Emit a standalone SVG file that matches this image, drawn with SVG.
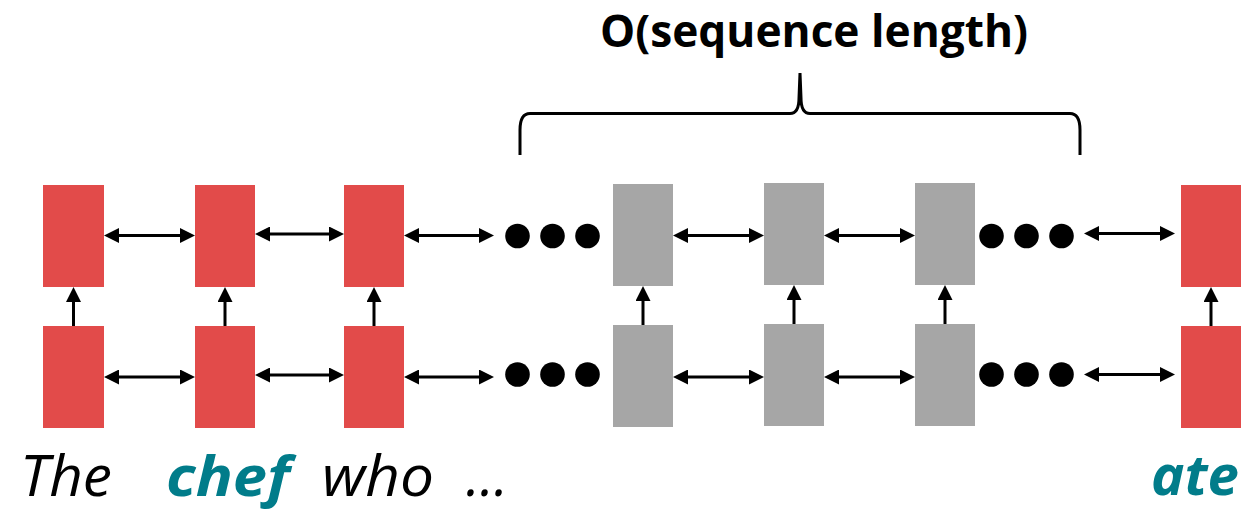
<svg xmlns="http://www.w3.org/2000/svg" width="1246" height="510" viewBox="0 0 1246 510">
<defs>
<marker id="ah" markerUnits="userSpaceOnUse" markerWidth="15" markerHeight="15" refX="3" refY="7.5" orient="auto-start-reverse" viewBox="0 0 15 15">
<path d="M0,0 L15,7.5 L0,15 z" fill="#000"/>
</marker>
</defs>
<style>
.red{fill:#E24B4A}
.gray{fill:#A6A6A6}
.c{stroke:#000;stroke-width:3;fill:none}
.bi{stroke:#000;stroke-width:3;fill:none;marker-start:url(#ah);marker-end:url(#ah)}
.up{stroke:#000;stroke-width:3;fill:none;marker-end:url(#ah)}
.dot{fill:#000}
.w{font-family:"Open Sans","Liberation Sans",sans-serif;font-style:italic;font-size:56px;fill:#000}
.k{font-family:"Open Sans","Liberation Sans",sans-serif;font-style:italic;font-weight:bold;font-size:56px;fill:#017C8A}
.t{font-family:"Open Sans","Liberation Sans",sans-serif;font-weight:bold;font-size:45px;fill:#000}
</style>
<rect width="1246" height="510" fill="#fff"/>
<g id="title"><text class="t" x="600" y="47" textLength="428" lengthAdjust="spacingAndGlyphs">O(sequence length)</text></g>
<g id="brace"><path class="c" stroke-width="2.5" d="M520,155 L520,130 Q520,113.5 530,113.5 L790,113.5 Q799,113.5 799,98 L800,73 L801,98 Q801,113.5 810,113.5 L1070,113.5 Q1080,113.5 1080,130 L1080,155"/></g>
<g id="n-top-1"><rect class="red" x="43" y="185" width="61" height="102"/></g>
<g id="n-top-2"><rect class="red" x="195" y="185" width="60" height="102"/></g>
<g id="n-top-3"><rect class="red" x="344" y="185" width="60" height="102"/></g>
<g id="n-top-4"><rect class="gray" x="613" y="184" width="60" height="102"/></g>
<g id="n-top-5"><rect class="gray" x="764" y="183" width="60" height="102"/></g>
<g id="n-top-6"><rect class="gray" x="915" y="183" width="60" height="102"/></g>
<g id="n-top-7"><rect class="red" x="1181" y="185" width="60" height="102"/></g>
<g id="n-bot-1"><rect class="red" x="43" y="326" width="61" height="102"/></g>
<g id="n-bot-2"><rect class="red" x="195" y="326" width="60" height="102"/></g>
<g id="n-bot-3"><rect class="red" x="344" y="326" width="60" height="102"/></g>
<g id="n-bot-4"><rect class="gray" x="613" y="325" width="60" height="102"/></g>
<g id="n-bot-5"><rect class="gray" x="764" y="324" width="60" height="102"/></g>
<g id="n-bot-6"><rect class="gray" x="915" y="324" width="60" height="102"/></g>
<g id="n-bot-7"><rect class="red" x="1181" y="326" width="60" height="102"/></g>
<g id="dots">
<circle class="dot" cx="517.5" cy="236" r="12.3"/><circle class="dot" cx="552.5" cy="236" r="12.3"/><circle class="dot" cx="587.5" cy="236" r="12.3"/>
<circle class="dot" cx="517.5" cy="374.5" r="12.3"/><circle class="dot" cx="552.5" cy="374.5" r="12.3"/><circle class="dot" cx="587.5" cy="374.5" r="12.3"/>
<circle class="dot" cx="991.5" cy="236" r="12.3"/><circle class="dot" cx="1026.5" cy="236" r="12.3"/><circle class="dot" cx="1061.5" cy="236" r="12.3"/>
<circle class="dot" cx="991.5" cy="374.5" r="12.3"/><circle class="dot" cx="1026.5" cy="374.5" r="12.3"/><circle class="dot" cx="1061.5" cy="374.5" r="12.3"/>
</g>
<g id="connectors">
<line class="bi" x1="116" y1="235.5" x2="183" y2="235.5"/>
<line class="bi" x1="267" y1="234" x2="332" y2="234"/>
<line class="bi" x1="416" y1="235.5" x2="482" y2="235.5"/>
<line class="bi" x1="685" y1="235.5" x2="752" y2="235.5"/>
<line class="bi" x1="836" y1="235.5" x2="903" y2="235.5"/>
<line class="bi" x1="1096" y1="233.5" x2="1163" y2="233.5"/>
<line class="bi" x1="116" y1="377" x2="183" y2="377"/>
<line class="bi" x1="267" y1="375" x2="332" y2="375"/>
<line class="bi" x1="416" y1="377" x2="482" y2="377"/>
<line class="bi" x1="685" y1="377" x2="752" y2="377"/>
<line class="bi" x1="836" y1="377" x2="903" y2="377"/>
<line class="bi" x1="1096" y1="374.5" x2="1163" y2="374.5"/>
<line class="up" x1="73.5" y1="326" x2="73.5" y2="299"/>
<line class="up" x1="225" y1="326" x2="225" y2="299"/>
<line class="up" x1="374" y1="326" x2="374" y2="299"/>
<line class="up" x1="643" y1="325" x2="643" y2="298"/>
<line class="up" x1="794" y1="324" x2="794" y2="297"/>
<line class="up" x1="945" y1="324" x2="945" y2="297"/>
<line class="up" x1="1211" y1="326" x2="1211" y2="299"/>
</g>
<g id="words">
<text class="w" x="20" y="496" textLength="92" lengthAdjust="spacingAndGlyphs">The</text>
<text class="k" x="166" y="496" textLength="124" lengthAdjust="spacingAndGlyphs">chef</text>
<text class="w" x="322" y="496" textLength="112" lengthAdjust="spacingAndGlyphs">who</text>
<text class="w" x="466" y="496" textLength="42" lengthAdjust="spacingAndGlyphs">…</text>
<text class="k" x="1151" y="495" textLength="88" lengthAdjust="spacingAndGlyphs">ate</text>
</g>
</svg>
